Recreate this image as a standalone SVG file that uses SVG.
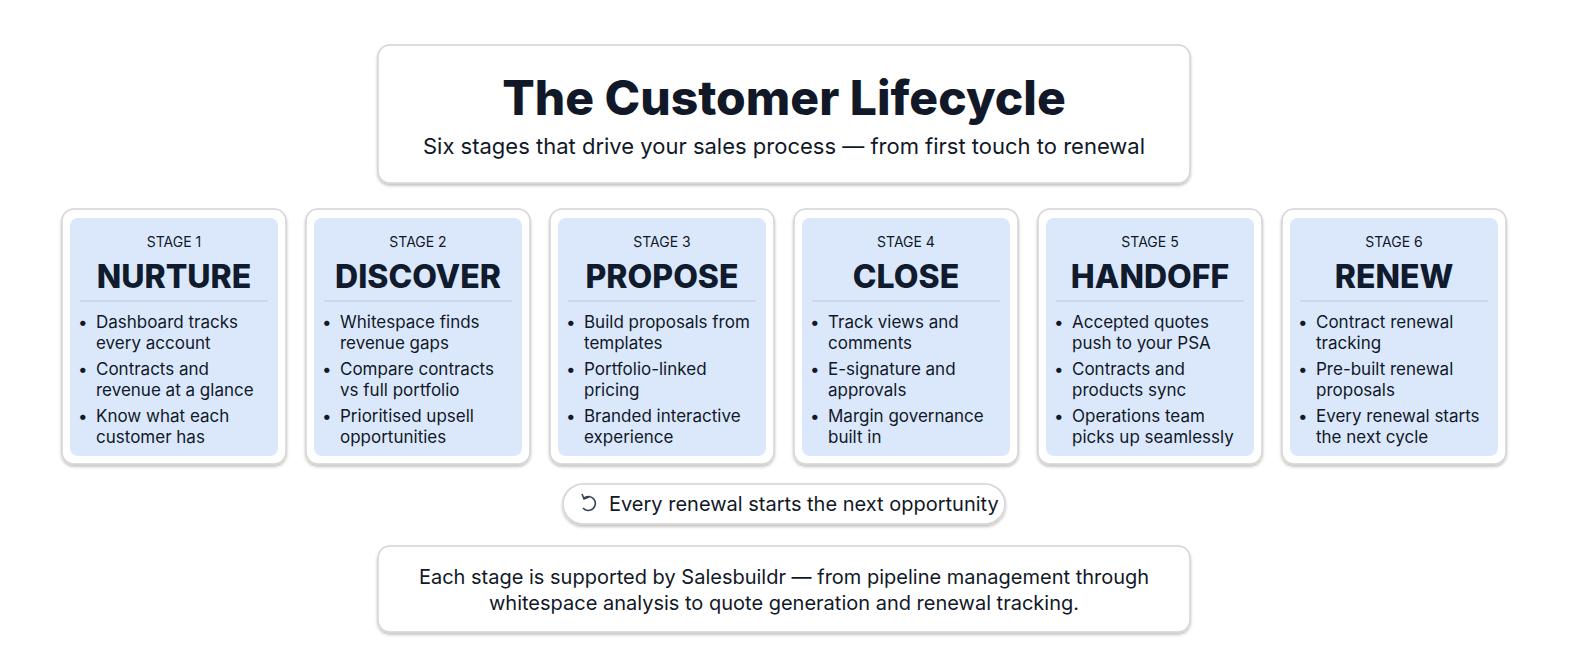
<svg xmlns="http://www.w3.org/2000/svg" width="1584" height="672" viewBox="0 0 1584 672">
<defs>
<filter id="sh" x="-10%" y="-10%" width="120%" height="130%"><feDropShadow dx="0" dy="2" stdDeviation="1.5" flood-color="#000" flood-opacity="0.25"/></filter>
<style>
.box{fill:#fff;stroke:#d4d4d4;stroke-width:1.5;filter:url(#sh)}
.inner{fill:#dbe8fc}
.t{font-family:Inter,"Noto Sans",sans-serif;fill:#111827}
.stage{font-size:14px;text-anchor:middle}
.name{font-size:32px;font-weight:800;text-anchor:middle;fill:#101b2d}
.b{font-size:17px}
.div{stroke:#b9c6dc;stroke-width:1}
</style>
</defs>
<rect width="1584" height="672" fill="#fff"/>
<g id="header">
<rect class="box" x="378" y="45" width="812" height="138" rx="12"/>
<text class="t" x="784" y="115" font-size="48" font-weight="800" text-anchor="middle" fill="#101b2d">The Customer Lifecycle</text>
<text class="t" x="784" y="154" font-size="22" text-anchor="middle">Six stages that drive your sales process — from first touch to renewal</text>
</g>
<g id="stage1">
<rect class="box" x="62" y="209" width="224" height="255" rx="12"/><rect class="inner" x="70" y="218" width="208" height="238" rx="8"/>
<text class="t stage" x="174" y="247">STAGE 1</text><text class="t name" x="174" y="288">NURTURE</text><line class="div" x1="80" y1="301" x2="268" y2="301"/>
<text class="t b"><tspan x="78" y="328">•</tspan><tspan x="96" y="328">Dashboard tracks</tspan><tspan x="96" y="349">every account</tspan><tspan x="78" y="375">•</tspan><tspan x="96" y="375">Contracts and</tspan><tspan x="96" y="396">revenue at a glance</tspan><tspan x="78" y="422">•</tspan><tspan x="96" y="422">Know what each</tspan><tspan x="96" y="443">customer has</tspan></text>
</g>
<g id="stage2">
<rect class="box" x="306" y="209" width="224" height="255" rx="12"/><rect class="inner" x="314" y="218" width="208" height="238" rx="8"/>
<text class="t stage" x="418" y="247">STAGE 2</text><text class="t name" x="418" y="288">DISCOVER</text><line class="div" x1="324" y1="301" x2="512" y2="301"/>
<text class="t b"><tspan x="322" y="328">•</tspan><tspan x="340" y="328">Whitespace finds</tspan><tspan x="340" y="349">revenue gaps</tspan><tspan x="322" y="375">•</tspan><tspan x="340" y="375">Compare contracts</tspan><tspan x="340" y="396">vs full portfolio</tspan><tspan x="322" y="422">•</tspan><tspan x="340" y="422">Prioritised upsell</tspan><tspan x="340" y="443">opportunities</tspan></text>
</g>
<g id="stage3">
<rect class="box" x="550" y="209" width="224" height="255" rx="12"/><rect class="inner" x="558" y="218" width="208" height="238" rx="8"/>
<text class="t stage" x="662" y="247">STAGE 3</text><text class="t name" x="662" y="288">PROPOSE</text><line class="div" x1="568" y1="301" x2="756" y2="301"/>
<text class="t b"><tspan x="566" y="328">•</tspan><tspan x="584" y="328">Build proposals from</tspan><tspan x="584" y="349">templates</tspan><tspan x="566" y="375">•</tspan><tspan x="584" y="375">Portfolio-linked</tspan><tspan x="584" y="396">pricing</tspan><tspan x="566" y="422">•</tspan><tspan x="584" y="422">Branded interactive</tspan><tspan x="584" y="443">experience</tspan></text>
</g>
<g id="stage4">
<rect class="box" x="794" y="209" width="224" height="255" rx="12"/><rect class="inner" x="802" y="218" width="208" height="238" rx="8"/>
<text class="t stage" x="906" y="247">STAGE 4</text><text class="t name" x="906" y="288">CLOSE</text><line class="div" x1="812" y1="301" x2="1000" y2="301"/>
<text class="t b"><tspan x="810" y="328">•</tspan><tspan x="828" y="328">Track views and</tspan><tspan x="828" y="349">comments</tspan><tspan x="810" y="375">•</tspan><tspan x="828" y="375">E-signature and</tspan><tspan x="828" y="396">approvals</tspan><tspan x="810" y="422">•</tspan><tspan x="828" y="422">Margin governance</tspan><tspan x="828" y="443">built in</tspan></text>
</g>
<g id="stage5">
<rect class="box" x="1038" y="209" width="224" height="255" rx="12"/><rect class="inner" x="1046" y="218" width="208" height="238" rx="8"/>
<text class="t stage" x="1150" y="247">STAGE 5</text><text class="t name" x="1150" y="288">HANDOFF</text><line class="div" x1="1056" y1="301" x2="1244" y2="301"/>
<text class="t b"><tspan x="1054" y="328">•</tspan><tspan x="1072" y="328">Accepted quotes</tspan><tspan x="1072" y="349">push to your PSA</tspan><tspan x="1054" y="375">•</tspan><tspan x="1072" y="375">Contracts and</tspan><tspan x="1072" y="396">products sync</tspan><tspan x="1054" y="422">•</tspan><tspan x="1072" y="422">Operations team</tspan><tspan x="1072" y="443">picks up seamlessly</tspan></text>
</g>
<g id="stage6">
<rect class="box" x="1282" y="209" width="224" height="255" rx="12"/><rect class="inner" x="1290" y="218" width="208" height="238" rx="8"/>
<text class="t stage" x="1394" y="247">STAGE 6</text><text class="t name" x="1394" y="288">RENEW</text><line class="div" x1="1300" y1="301" x2="1488" y2="301"/>
<text class="t b"><tspan x="1298" y="328">•</tspan><tspan x="1316" y="328">Contract renewal</tspan><tspan x="1316" y="349">tracking</tspan><tspan x="1298" y="375">•</tspan><tspan x="1316" y="375">Pre-built renewal</tspan><tspan x="1316" y="396">proposals</tspan><tspan x="1298" y="422">•</tspan><tspan x="1316" y="422">Every renewal starts</tspan><tspan x="1316" y="443">the next cycle</tspan></text>
</g>
<g id="loop">
<rect class="box" x="563" y="484" width="442" height="40" rx="20"/>
<path d="M584 498 A7 7 0 1 1 583 508" fill="none" stroke="#374151" stroke-width="1.6"/>
<path d="M582 494 L584 499 L589 497" fill="none" stroke="#374151" stroke-width="1.6"/>
<text class="t" x="609" y="511" font-size="20">Every renewal starts the next opportunity</text>
</g>
<g id="footer">
<rect class="box" x="378" y="546" width="812" height="86" rx="12"/>
<text class="t" x="784" y="584" font-size="20" text-anchor="middle">Each stage is supported by Salesbuildr — from pipeline management through</text>
<text class="t" x="784" y="610" font-size="20" text-anchor="middle">whitespace analysis to quote generation and renewal tracking.</text>
</g>
<g id="connectors"/>
</svg>
